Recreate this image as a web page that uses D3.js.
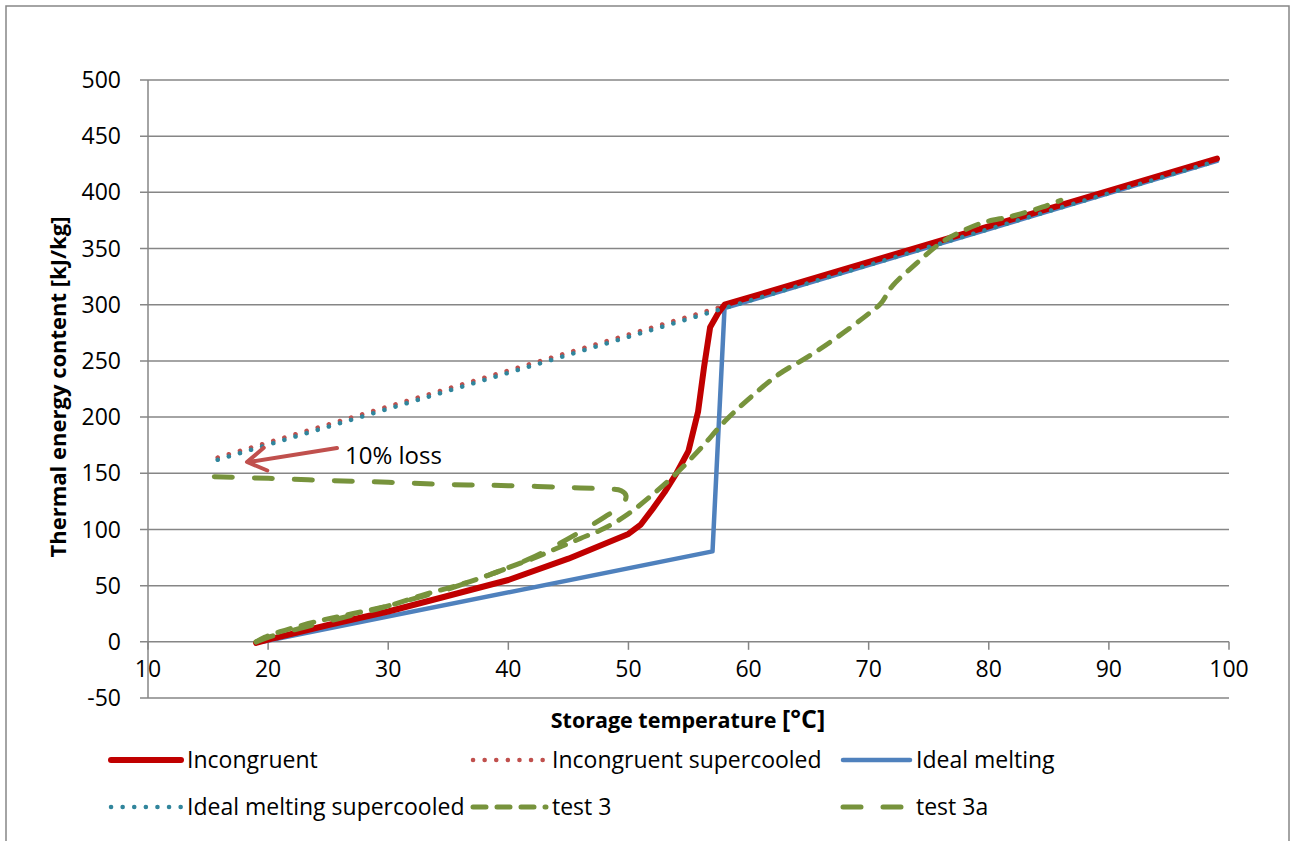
<!DOCTYPE html>
<html>
<head>
<meta charset="utf-8">
<script src="https://cdn.jsdelivr.net/npm/d3@7"></script>
<style>
  html, body { margin: 0; padding: 0; background: #fff; }
  svg { display: block; }
  text { font-family: "Open Sans", "Noto Sans", sans-serif; fill: #000; }
</style>
</head>
<body>
<svg id="chart" width="1292" height="841"></svg>
<script>
// ---------- DATA ----------
const xTicks = [10, 20, 30, 40, 50, 60, 70, 80, 90, 100];
const yTicks = [-50, 0, 50, 100, 150, 200, 250, 300, 350, 400, 450, 500];

const incongruentX = [19, 20, 25, 30, 34.3, 40, 45, 50, 51, 52, 53, 54, 55, 55.8, 56.3, 56.8, 57.5, 58, 99];
const incongruentY = [-1, 2, 15, 27, 39, 55, 74, 96, 104, 118, 133, 150, 170, 205, 245, 280, 293, 300, 430];

const incSuperX = [15.8, 58, 99];
const incSuperY = [164, 299, 430];

const idealX = [19.5, 57, 58, 99];
const idealY = [0, 80.5, 297, 428];

const idealSuperX = [15.8, 58, 99];
const idealSuperY = [162, 297, 428];

const test3X = [19, 19.7, 21, 24, 27, 30, 33, 36, 38, 40, 42, 44, 46, 48, 50, 52, 54, 56, 58, 60, 62.5, 65, 67.5, 70, 71, 72, 74, 76, 77.5, 79.5, 82, 84.5, 86];
const test3Y = [0, 4, 9, 18, 25, 32, 42, 51, 58, 66, 74, 83, 92, 101, 114, 131, 150, 172, 196, 216, 238, 254, 272, 292, 301, 317, 337, 355, 364, 373, 379, 387, 393];

const test3aX = [19, 20, 23, 26, 29, 32, 35, 38, 40, 42, 44, 46, 48, 49.5, 49.8, 49.4, 48, 46, 40, 35, 30, 25, 20, 15.5];
const test3aY = [0, 4, 13, 21, 29, 38, 47, 58, 66, 75, 86, 98, 111, 122, 130, 134.5, 136, 137, 139, 140, 142, 143.5, 145.5, 147];

const seriesNames = ["Incongruent", "Incongruent supercooled", "Ideal melting", "Ideal melting supercooled", "test 3", "test 3a"];
const annotationText = "10% loss";
const xTitle = "Storage temperature ";
const xTitleUnit = "[°C]";
const yTitle = "Thermal energy content [kJ/kg]";

// ---------- STYLES ----------
const styles = {
  "Incongruent":               { color: "#c00000", width: 6,   dash: null,     cap: "round" },
  "Incongruent supercooled":   { color: "#c0504d", width: 4.5, dash: "0.1,11.5", cap: "round" },
  "Ideal melting":             { color: "#4f81bd", width: 4.5, dash: null,     cap: "round" },
  "Ideal melting supercooled": { color: "#31859c", width: 4.5, dash: "0.1,11.5", cap: "round" },
  "test 3":                    { color: "#77933c", width: 5,   dash: "13,11",  cap: "round" },
  "test 3a":                   { color: "#77933c", width: 5,   dash: "18,22",  cap: "round" }
};

const FS = 23;
const svg = d3.select("#chart");
const gridColor = "#868686";

// outer border
svg.append("rect").attr("x", 6).attr("y", 6).attr("width", 1283).attr("height", 850)
  .attr("fill", "none").attr("stroke", gridColor).attr("stroke-width", 1.5);

const x = d3.scaleLinear().domain([10, 100]).range([148, 1229]);
const y = d3.scaleLinear().domain([-50, 500]).range([698, 80]);

// gridlines
svg.append("g").selectAll("line").data(yTicks).join("line")
  .attr("x1", 140).attr("x2", x(100))
  .attr("y1", d => y(d)).attr("y2", d => y(d))
  .attr("stroke", gridColor).attr("stroke-width", 1.5);

// y axis line
svg.append("line").attr("x1", x(10)).attr("x2", x(10)).attr("y1", y(500)).attr("y2", y(-50))
  .attr("stroke", gridColor).attr("stroke-width", 1.5);

// x axis ticks at y=0
svg.append("g").selectAll("line").data(xTicks).join("line")
  .attr("x1", d => x(d)).attr("x2", d => x(d))
  .attr("y1", y(0)).attr("y2", y(0) + 8)
  .attr("stroke", gridColor).attr("stroke-width", 1.5);

// y tick labels
svg.append("g").selectAll("text").data(yTicks).join("text")
  .attr("x", 121).attr("y", d => y(d)).attr("dy", "0.35em")
  .attr("text-anchor", "end").attr("font-size", FS).text(d => d);

// x tick labels
svg.append("g").selectAll("text").data(xTicks).join("text")
  .attr("x", d => x(d)).attr("y", y(0) + 35)
  .attr("text-anchor", "middle").attr("font-size", FS).text(d => d);

// axis titles
const xt = svg.append("text").attr("x", 688).attr("y", 728).attr("text-anchor", "middle")
  .attr("font-size", 21.5).attr("font-weight", "bold");
xt.append("tspan").text(xTitle);
xt.append("tspan").attr("font-size", 25).text(xTitleUnit);

svg.append("text").attr("transform", "translate(66,387) rotate(-90)")
  .attr("text-anchor", "middle").attr("font-size", 22).attr("font-weight", "bold").text(yTitle);

// lines
const plotOrder = [
  ["Incongruent supercooled", incSuperX, incSuperY],
  ["Ideal melting", idealX, idealY],
  ["Incongruent", incongruentX, incongruentY],
  ["Ideal melting supercooled", idealSuperX, idealSuperY],
  ["test 3", test3X, test3Y],
  ["test 3a", test3aX, test3aY]
];

const lineLinear = d3.line().x(d => x(d[0])).y(d => y(d[1]));
const lineSmooth = d3.line().x(d => x(d[0])).y(d => y(d[1])).curve(d3.curveCatmullRom.alpha(0.5));

plotOrder.forEach(([name, xs, ys]) => {
  const s = styles[name];
  const pts = xs.map((v, i) => [v, ys[i]]);
  const gen = name.startsWith("test") ? lineSmooth : lineLinear;
  svg.append("path").datum(pts)
    .attr("d", gen)
    .attr("fill", "none")
    .attr("stroke", s.color)
    .attr("stroke-width", s.width)
    .attr("stroke-linecap", s.cap)
    .attr("stroke-linejoin", "round")
    .attr("stroke-dasharray", s.dash);
});

// annotation arrow (shaft + open head)
const arrowColor = "#c0504d";
const ax1 = 337, ay1 = 448, ax2 = 247, ay2 = 462;
const ang = Math.atan2(ay2 - ay1, ax2 - ax1);
const headLen = 22, headAng = 0.55;
const hp1 = [ax2 - headLen * Math.cos(ang - headAng), ay2 - headLen * Math.sin(ang - headAng)];
const hp2 = [ax2 - headLen * Math.cos(ang + headAng), ay2 - headLen * Math.sin(ang + headAng)];
svg.append("line")
  .attr("x1", ax1).attr("y1", ay1).attr("x2", ax2 + 2).attr("y2", ay2)
  .attr("stroke", arrowColor).attr("stroke-width", 4).attr("stroke-linecap", "round");
svg.append("path")
  .attr("d", `M${hp1[0]},${hp1[1]} L${ax2},${ay2} L${hp2[0]},${hp2[1]}`)
  .attr("fill", "none").attr("stroke", arrowColor).attr("stroke-width", 4)
  .attr("stroke-linecap", "round").attr("stroke-linejoin", "round");

svg.append("text").attr("x", 345).attr("y", 464).attr("font-size", 24).text(annotationText);

// legend
const legendItems = [
  { name: "Incongruent",               sx: 108, tx: 187, ly: 760 },
  { name: "Incongruent supercooled",   sx: 470, tx: 552, ly: 760 },
  { name: "Ideal melting",             sx: 840, tx: 916, ly: 760 },
  { name: "Ideal melting supercooled", sx: 108, tx: 187, ly: 807 },
  { name: "test 3",                    sx: 470, tx: 552, ly: 807 },
  { name: "test 3a",                   sx: 840, tx: 916, ly: 807 }
];
const lg = svg.append("g");
legendItems.forEach(it => {
  const s = styles[it.name];
  lg.append("line").attr("x1", it.sx + 3).attr("x2", it.tx - 6)
    .attr("y1", it.ly).attr("y2", it.ly)
    .attr("stroke", s.color).attr("stroke-width", s.width)
    .attr("stroke-linecap", s.cap).attr("stroke-dasharray", s.dash);
  lg.append("text").attr("x", it.tx).attr("y", it.ly).attr("dy", "0.35em")
    .attr("font-size", FS).text(it.name);
});
</script>
</body>
</html>
